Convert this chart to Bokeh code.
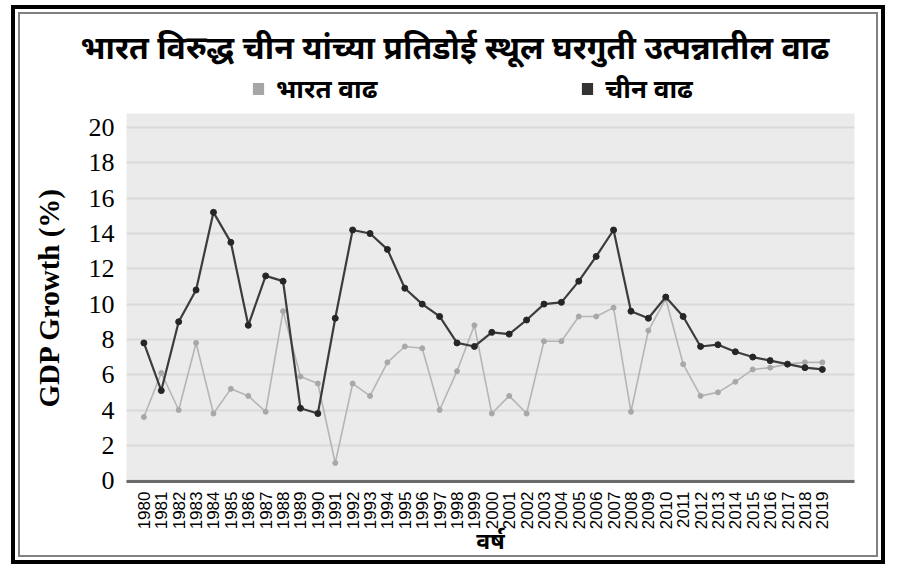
import math
import numpy as np
from bokeh.plotting import figure
from bokeh.models import (FixedTicker, Legend, LegendItem, Title, Range1d,
                          ColumnDataSource)
from bokeh.layouts import column
from bokeh.embed import file_html
from bokeh.resources import INLINE

years = list(range(1980, 2020))
india = [3.6, 6.1, 4.0, 7.8, 3.8, 5.2, 4.8, 3.9, 9.6, 5.9,
         5.5, 1.0, 5.5, 4.8, 6.7, 7.6, 7.5, 4.0, 6.2, 8.8,
         3.8, 4.8, 3.8, 7.9, 7.9, 9.3, 9.3, 9.8, 3.9, 8.5,
         10.3, 6.6, 4.8, 5.0, 5.6, 6.3, 6.4, 6.6, 6.7, 6.7]
china = [7.8, 5.1, 9.0, 10.8, 15.2, 13.5, 8.8, 11.6, 11.3, 4.1,
         3.8, 9.2, 14.2, 14.0, 13.1, 10.9, 10.0, 9.3, 7.8, 7.6,
         8.4, 8.3, 9.1, 10.0, 10.1, 11.3, 12.7, 14.2, 9.6, 9.2,
         10.4, 9.3, 7.6, 7.7, 7.3, 7.0, 6.8, 6.6, 6.4, 6.3]
y_ticks = list(range(0, 21, 2))

title_text = "भारत विरुद्ध चीन यांच्या प्रतिडोई स्थूल घरगुती उत्पन्नातील वाढ"
legend_labels = ["भारत वाढ", "चीन वाढ"]
x_title = "वर्ष"
y_title = "GDP Growth (%)"

DEV = "Noto Sans"
W = 884
HDR_H = 113
MAIN_H = 456
BL, BR = 120, 36   # side borders -> frame spans page x 126..854

# ---------- header: title + legend ----------
hdr = figure(width=W, height=HDR_H, output_backend="svg", toolbar_location=None,
             title=None, x_range=Range1d(0, 1), y_range=Range1d(0, 1),
             x_axis_type=None, y_axis_type=None,
             min_border_left=BL, min_border_right=BR,
             min_border_top=70, min_border_bottom=0)
hdr.outline_line_color = None
hdr.background_fill_alpha = 0
hdr.border_fill_alpha = 0
hdr.grid.visible = False

hdr.add_layout(Title(text=title_text, align="left", offset=-46,
                     text_font=DEV, text_font_size="32px",
                     text_font_style="bold", text_color="black", standoff=5),
               "above")

h_in = hdr.quad(left=[np.nan], right=[np.nan], top=[np.nan], bottom=[np.nan],
                fill_color="#a6a6a6", line_color=None)
h_cn = hdr.quad(left=[np.nan], right=[np.nan], top=[np.nan], bottom=[np.nan],
                fill_color="#333333", line_color=None)
legend = Legend(items=[LegendItem(label=legend_labels[0], renderers=[h_in]),
                       LegendItem(label=legend_labels[1], renderers=[h_cn])],
                orientation="horizontal", location=(125, 7),
                padding=0, margin=0, spacing=203, label_standoff=11,
                glyph_width=14, glyph_height=15,
                label_text_font=DEV, label_text_font_size="26px",
                label_text_font_style="bold", label_text_color="black",
                border_line_color=None, background_fill_alpha=0)
hdr.add_layout(legend)

# ---------- main chart ----------
p = figure(width=W, height=MAIN_H, output_backend="svg", toolbar_location=None,
           title=None,
           x_range=Range1d(1979.0, 2020.85), y_range=Range1d(-0.05, 20.8),
           min_border_left=BL, min_border_right=BR,
           min_border_top=0, min_border_bottom=88)
p.background_fill_color = "#ebebeb"
p.border_fill_alpha = 0
p.outline_line_color = None

p.xgrid.grid_line_color = None
p.ygrid.grid_line_color = "#d9d9d9"
p.ygrid.grid_line_width = 2

p.yaxis.ticker = FixedTicker(ticks=y_ticks)
p.yaxis.axis_line_color = None
p.yaxis.major_tick_line_color = None
p.yaxis.minor_tick_line_color = None
p.yaxis.major_label_text_font = "Liberation Serif"
p.yaxis.major_label_text_font_size = "26px"
p.yaxis.major_label_text_color = "black"
p.yaxis.major_label_standoff = 6
p.yaxis.axis_label = y_title
p.yaxis.axis_label_text_font = "Liberation Serif"
p.yaxis.axis_label_text_font_style = "bold"
p.yaxis.axis_label_text_font_size = "29px"
p.yaxis.axis_label_text_color = "black"
p.yaxis.axis_label_standoff = 21

p.xaxis.ticker = FixedTicker(ticks=years)
p.xaxis.major_label_orientation = math.pi / 2
p.xaxis.axis_line_color = "#6a6a6a"
p.xaxis.axis_line_width = 3
p.xaxis.major_tick_line_color = None
p.xaxis.minor_tick_line_color = None
p.xaxis.major_label_text_font = "Liberation Sans"
p.xaxis.major_label_text_font_size = "17px"
p.xaxis.major_label_text_color = "black"
p.xaxis.major_label_standoff = 4
p.xaxis.axis_label = x_title
p.xaxis.axis_label_text_font = DEV
p.xaxis.axis_label_text_font_style = "bold"
p.xaxis.axis_label_text_font_size = "23px"
p.xaxis.axis_label_text_color = "black"
p.xaxis.axis_label_standoff = -8

src = ColumnDataSource(dict(year=years, india=india, china=china))
p.line("year", "india", source=src, line_color="#b5b5b5", line_width=1.6)
p.scatter("year", "india", source=src, size=5, fill_color="#a8a8a8",
          line_color="#a8a8a8")
p.line("year", "china", source=src, line_color="#3c3c3c", line_width=2.2)
p.scatter("year", "china", source=src, size=6, fill_color="#262626",
          line_color="#262626")

inner = column(hdr, p, spacing=0,
               styles={"outline": "2px solid #808080", "outline-offset": "-14px"})
lay = column(inner, styles={"outline": "4px solid black", "outline-offset": "-9px",
                            "margin-left": "6px"})

open("out.html", "w").write(file_html(lay, INLINE))
